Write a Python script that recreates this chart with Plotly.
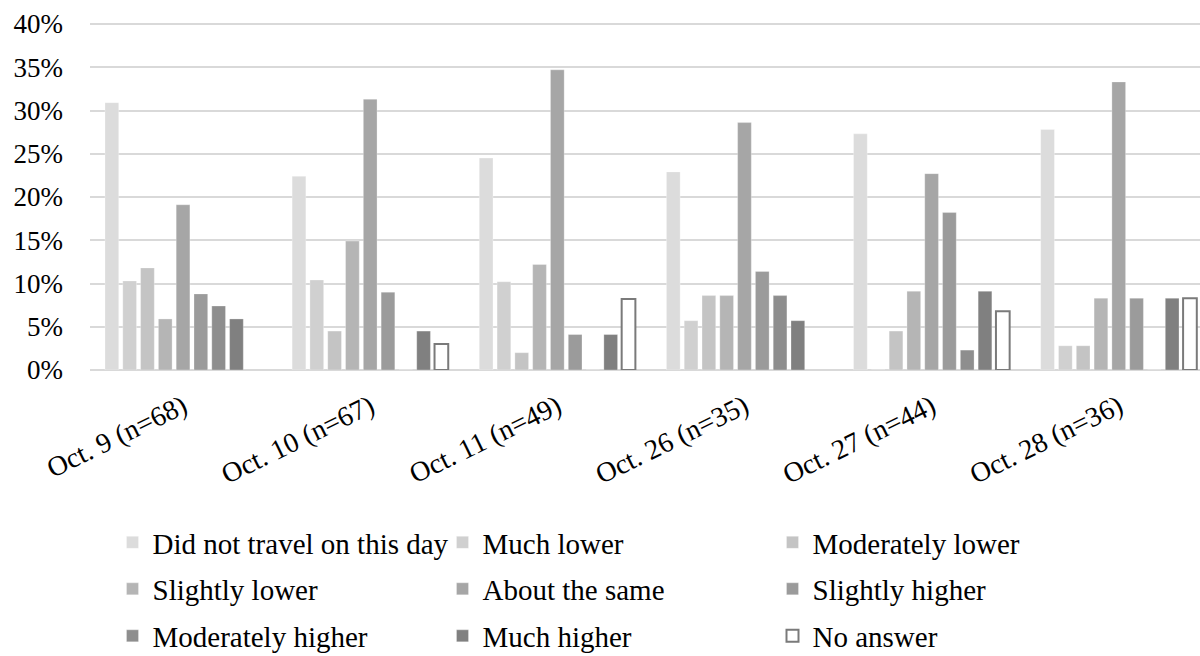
import plotly.graph_objects as go

dates = ["Oct. 9 (n=68)", "Oct. 10 (n=67)", "Oct. 11 (n=49)",
         "Oct. 26 (n=35)", "Oct. 27 (n=44)", "Oct. 28 (n=36)"]

series_names = ["Did not travel on this day", "Much lower", "Moderately lower",
                "Slightly lower", "About the same", "Slightly higher",
                "Moderately higher", "Much higher", "No answer"]

did_not_travel    = [30.9, 22.4, 24.5, 22.9, 27.3, 27.8]
much_lower        = [10.3, 10.4, 10.2, 5.7, 0, 2.8]
moderately_lower  = [11.8, 4.5, 2.0, 8.6, 4.5, 2.8]
slightly_lower    = [5.9, 14.9, 12.2, 8.6, 9.1, 8.3]
about_same        = [19.1, 31.3, 34.7, 28.6, 22.7, 33.3]
slightly_higher   = [8.8, 9.0, 4.1, 11.4, 18.2, 8.3]
moderately_higher = [7.4, 0, 0, 8.6, 2.3, 0]
much_higher       = [5.9, 4.5, 4.1, 5.7, 9.1, 8.3]
no_answer         = [0, 3.0, 8.2, 0, 6.8, 8.3]

y_ticks = [0, 5, 10, 15, 20, 25, 30, 35, 40]
y_tick_labels = [f"{v}%" for v in y_ticks]

values = [did_not_travel, much_lower, moderately_lower, slightly_lower,
          about_same, slightly_higher, moderately_higher, much_higher, no_answer]
fills = ["#dcdcdc", "#d0d0d0", "#c4c4c4", "#b5b5b5", "#a6a6a6",
         "#9b9b9b", "#8e8e8e", "#808080", "#ffffff"]
legend_ids = ["legend", "legend", "legend", "legend2", "legend2", "legend2",
              "legend3", "legend3", "legend3"]

FONT = "Liberation Serif"

fig = go.Figure()
for name, vals, col, lg in zip(series_names, values, fills, legend_ids):
    is_na = name == "No answer"
    fig.add_trace(go.Bar(
        x=dates, y=[v if v else None for v in vals] if is_na else vals,
        name=name, legend=lg,
        marker=dict(color=col,
                    line=dict(color="#7a7a7a" if is_na else "rgba(255,255,255,0.35)",
                              width=2 if is_na else 0.8)),
        hoverinfo="skip",
    ))

W, H = 1200, 656
ml, mb = 90, 286
zero_px, top_px = 370, 24          # pixel rows of 0% and 40%
scale = (zero_px - top_px) / 40.0  # px per percentage point
mt = top_px - 3                    # leave 3px above the 40% gridline
plot_h = H - mt - mb
y_range = [0, plot_h / scale]
c0, pitch = 183.05, 187.14
xr = [(ml - c0) / pitch, (W - c0) / pitch]

def py(p):
    return (H - mb - p) / plot_h

leg_common = dict(orientation="h", xanchor="left", yanchor="middle",
                  font=dict(family=FONT, size=29, color="#000000"),
                  entrywidth=285, entrywidthmode="pixels",
                  bgcolor="rgba(0,0,0,0)", traceorder="normal")
lx = 22.5 / (W - ml)

fig.update_layout(
    width=W, height=H,
    margin=dict(l=ml, r=0, t=mt, b=mb, autoexpand=False),
    paper_bgcolor="white", plot_bgcolor="white",
    barmode="group", bargap=0.144, bargroupgap=0.23,
    font=dict(family=FONT, size=28, color="#000000"),
    showlegend=True,
    legend=dict(x=lx, y=py(542.5), **leg_common),
    legend2=dict(x=lx, y=py(589), **leg_common),
    legend3=dict(x=lx, y=py(636), **leg_common),
    xaxis=dict(type="category", range=xr, showgrid=False, showline=False,
               tickangle=-26, ticks="", ticklabelstandoff=14,
               tickfont=dict(family=FONT, size=28, color="#000000"),
               fixedrange=True),
    yaxis=dict(range=y_range, tickmode="array", tickvals=y_ticks, ticktext=y_tick_labels,
               showgrid=True, gridcolor="#d9d9d9", gridwidth=1.5,
               zeroline=True, zerolinecolor="#d9d9d9", zerolinewidth=1.5,
               showline=False, ticks="", ticklabelstandoff=26,
               tickfont=dict(family=FONT, size=27, color="#000000"),
               fixedrange=True),
)

fig.write_html("out.html", config={"displayModeBar": False},
               post_script="document.body.style.margin='0';")
